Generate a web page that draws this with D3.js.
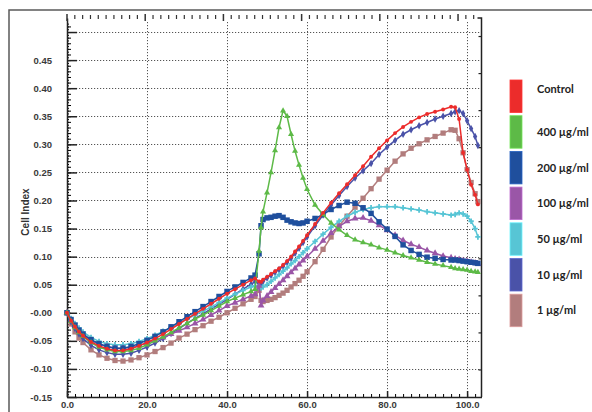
<!DOCTYPE html>
<html>
<head>
<meta charset="utf-8">
<script src="https://cdn.jsdelivr.net/npm/d3@7"></script>
<style>
  body { margin: 0; background: #fff; }
  svg { display: block; font-family: "Liberation Sans", Arial, sans-serif; }
</style>
</head>
<body>
<svg width="592" height="412"></svg>
<script>
// time points (h) shared by every series
const hours = [0, 1, 2, 3, 4, 6, 8, 10, 12, 14, 16, 18, 20, 22, 24, 26, 28, 30, 32, 34, 36, 38, 40, 42, 44, 46,
  47, 48, 48.5, 49, 50, 51, 52, 53, 54, 55, 56, 57, 58, 59, 60, 62, 64, 66, 68, 70, 72, 74, 76, 78, 80, 82, 84,
  86, 88, 90, 92, 94, 96, 97, 98, 99, 100, 101, 102, 102.7];

const control = [0.000, -0.014, -0.025, -0.034, -0.041, -0.052, -0.059, -0.064, -0.067, -0.067, -0.064, -0.059, -0.053,
  -0.046, -0.038, -0.029, -0.020, -0.011, -0.002, 0.007, 0.016, 0.025, 0.034, 0.042, 0.050, 0.058,
  0.061, 0.056, 0.055, 0.059, 0.064, 0.069, 0.074, 0.079, 0.085, 0.092, 0.100, 0.109, 0.118, 0.128, 0.138,
  0.158, 0.178, 0.196, 0.213, 0.229, 0.245, 0.261, 0.278, 0.293, 0.307, 0.320, 0.331, 0.340, 0.348, 0.354,
  0.358, 0.362, 0.367, 0.366, 0.345, 0.285, 0.255, 0.228, 0.210, 0.193];

const dose400 = [0.000, -0.015, -0.026, -0.035, -0.042, -0.053, -0.061, -0.066, -0.069, -0.069, -0.067, -0.063, -0.057,
  -0.050, -0.043, -0.035, -0.027, -0.019, -0.011, -0.004, 0.004, 0.012, 0.020, 0.026, 0.032, 0.038,
  0.042, 0.110, 0.152, 0.180, 0.214, 0.250, 0.289, 0.330, 0.360, 0.350, 0.318, 0.288, 0.263, 0.240, 0.220,
  0.192, 0.175, 0.160, 0.148, 0.138, 0.130, 0.125, 0.121, 0.116, 0.112, 0.107, 0.102, 0.098, 0.094, 0.090,
  0.087, 0.084, 0.081, 0.079, 0.078, 0.077, 0.076, 0.074, 0.073, 0.072];

const dose200 = [0.000, -0.012, -0.022, -0.031, -0.038, -0.048, -0.055, -0.060, -0.063, -0.063, -0.060, -0.055, -0.049,
  -0.042, -0.034, -0.025, -0.016, -0.007, 0.002, 0.011, 0.020, 0.029, 0.038, 0.046, 0.054, 0.062,
  0.067, 0.105, 0.155, 0.166, 0.169, 0.170, 0.172, 0.173, 0.170, 0.165, 0.162, 0.160, 0.159, 0.160, 0.163,
  0.168, 0.175, 0.184, 0.191, 0.197, 0.195, 0.187, 0.177, 0.162, 0.149, 0.136, 0.121, 0.111, 0.104, 0.099,
  0.097, 0.095, 0.094, 0.094, 0.093, 0.092, 0.091, 0.090, 0.089, 0.088];

const dose100 = [0.000, -0.013, -0.024, -0.032, -0.039, -0.049, -0.056, -0.060, -0.063, -0.063, -0.062, -0.058, -0.054,
  -0.049, -0.044, -0.038, -0.032, -0.026, -0.019, -0.012, -0.004, 0.004, 0.012, 0.018, 0.024, 0.030,
  0.033, 0.048, 0.013, 0.022, 0.030, 0.037, 0.044, 0.051, 0.058, 0.065, 0.072, 0.079, 0.086, 0.093, 0.100,
  0.114, 0.128, 0.142, 0.154, 0.163, 0.168, 0.169, 0.164, 0.156, 0.147, 0.138, 0.129, 0.122, 0.117, 0.111,
  0.106, 0.101, 0.098, 0.096, 0.095, 0.093, 0.092, 0.090, 0.089, 0.087];

const dose50 = [0.000, -0.010, -0.019, -0.027, -0.034, -0.044, -0.051, -0.055, -0.057, -0.057, -0.055, -0.051, -0.046,
  -0.040, -0.033, -0.026, -0.018, -0.011, -0.004, 0.003, 0.010, 0.018, 0.026, 0.033, 0.040, 0.046,
  0.048, 0.046, 0.044, 0.046, 0.050, 0.056, 0.062, 0.068, 0.074, 0.080, 0.087, 0.093, 0.100, 0.107, 0.114,
  0.127, 0.140, 0.152, 0.163, 0.172, 0.179, 0.184, 0.187, 0.189, 0.189, 0.189, 0.187, 0.185, 0.183, 0.180,
  0.178, 0.176, 0.174, 0.175, 0.178, 0.176, 0.172, 0.163, 0.150, 0.135];

const dose10 = [0.000, -0.016, -0.028, -0.038, -0.046, -0.058, -0.066, -0.071, -0.074, -0.074, -0.072, -0.067, -0.061,
  -0.054, -0.046, -0.037, -0.028, -0.019, -0.010, -0.002, 0.007, 0.015, 0.024, 0.033, 0.042, 0.051,
  0.055, 0.052, 0.050, 0.056, 0.062, 0.067, 0.072, 0.077, 0.083, 0.090, 0.097, 0.106, 0.115, 0.125, 0.135,
  0.155, 0.174, 0.192, 0.209, 0.225, 0.240, 0.253, 0.266, 0.282, 0.295, 0.307, 0.318, 0.326, 0.333, 0.339,
  0.345, 0.350, 0.355, 0.358, 0.360, 0.355, 0.342, 0.328, 0.314, 0.298];

const dose1 = [0.000, -0.020, -0.034, -0.045, -0.053, -0.066, -0.075, -0.081, -0.085, -0.086, -0.084, -0.080, -0.075,
  -0.069, -0.062, -0.054, -0.045, -0.038, -0.030, -0.023, -0.015, -0.008, 0.000, 0.008, 0.016, 0.024,
  0.029, 0.040, 0.022, 0.020, 0.022, 0.024, 0.027, 0.031, 0.035, 0.040, 0.046, 0.052, 0.058, 0.065, 0.073,
  0.091, 0.113, 0.135, 0.155, 0.172, 0.188, 0.204, 0.221, 0.238, 0.254, 0.270, 0.283, 0.293, 0.301, 0.308,
  0.314, 0.320, 0.326, 0.325, 0.310, 0.285, 0.255, 0.232, 0.212, 0.198];

const seriesNames = ["Control", "400 µg/ml", "200 µg/ml", "100 µg/ml", "50 µg/ml", "10 µg/ml", "1 µg/ml"];
const seriesValues = [control, dose400, dose200, dose100, dose50, dose10, dose1];
const seriesColors = ["#ec2c2b", "#5dba47", "#1f4f9d", "#9a56a7", "#57c5d5", "#4a52a8", "#b27d7d"];
const seriesSymbols = [d3.symbolCircle, d3.symbolTriangle, d3.symbolSquare, d3.symbolTriangle, d3.symbolCross, d3.symbolDiamond, d3.symbolSquare];
const symbolSizes = [12, 16, 30, 20, 16, 16, 28];

const xTicks = [0, 20, 40, 60, 80, 100];
const xTickLabels = ["0.0", "20.0", "40.0", "60.0", "80.0", "100.0"];
const yTicks = [-0.15, -0.10, -0.05, 0, 0.05, 0.10, 0.15, 0.20, 0.25, 0.30, 0.35, 0.40, 0.45, 0.50];
const yTickLabels = ["-0.15", "-0.10", "-0.05", "-0.00", "0.05", "0.10", "0.15", "0.20", "0.25", "0.30", "0.35", "0.40", "0.45", ""];

const svg = d3.select("svg");
const plotL = 67, plotR = 481.5, plotT = 18, plotB = 397;

const x = d3.scaleLinear().domain([0, 103.6]).range([plotL, plotR]);
const y = d3.scaleLinear().domain([-0.15, 0.525]).range([plotB, plotT]);
const xTop = d3.scaleLinear().domain([0, 106]).range([plotL, plotR]);
const yRight = d3.scaleLinear().domain([-0.73, 9.5]).range([plotB, plotT]);

// outer frame (top and left edges only are visible)
svg.append("path")
  .attr("d", "M9,412V10H592")
  .attr("fill", "none")
  .attr("stroke", "#5a5a5a")
  .attr("stroke-width", 1.5);

// grid
const grid = svg.append("g").attr("stroke", "#555").attr("stroke-width", 1).attr("stroke-dasharray", "1.2,1.8");
grid.selectAll(".hg")
  .data(yTicks.filter((d) => d > -0.15))
  .enter()
  .append("line")
  .attr("x1", plotL).attr("x2", plotR)
  .attr("y1", (d) => Math.round(y(d)) + 0.5).attr("y2", (d) => Math.round(y(d)) + 0.5);
grid.selectAll(".vg")
  .data(xTicks.filter((d) => d > 0))
  .enter()
  .append("line")
  .attr("y1", plotT + 4).attr("y2", plotB)
  .attr("x1", (d) => Math.round(x(d)) + 0.5).attr("x2", (d) => Math.round(x(d)) + 0.5);

// left axis
const fmtY = (d) => yTickLabels[yTicks.findIndex((v) => Math.abs(v - d) < 1e-9)];
svg.append("g")
  .attr("transform", "translate(" + plotL + ",0)")
  .call(d3.axisLeft(y).tickValues(d3.range(-0.15, 0.52, 0.005)).tickSize(-2).tickFormat(""))
  .call((g) => g.select(".domain").remove());
svg.append("g")
  .attr("transform", "translate(" + plotL + ",0)")
  .call(d3.axisLeft(y).tickValues(d3.range(-0.15, 0.52, 0.01)).tickSize(-4).tickFormat(""))
  .call((g) => g.select(".domain").remove());
const yAxis = svg.append("g")
  .attr("transform", "translate(" + plotL + ",0)")
  .call(d3.axisLeft(y).tickValues(yTicks).tickSize(-10).tickSizeOuter(0).tickPadding(15).tickFormat(fmtY));
yAxis.select(".domain").attr("stroke", "#222").attr("stroke-width", 1.5);
yAxis.selectAll(".tick line").attr("stroke", "#222").attr("stroke-width", 1.5);
yAxis.selectAll("text").attr("font-size", "9.5px").attr("font-weight", "bold").attr("fill", "#3a3a3a");

// bottom axis
svg.append("g")
  .attr("transform", "translate(0," + plotB + ")")
  .call(d3.axisBottom(x).tickValues(d3.range(0, 104, 2)).tickSize(-3).tickFormat(""))
  .call((g) => g.select(".domain").remove());
const xAxis = svg.append("g")
  .attr("transform", "translate(0," + plotB + ")")
  .call(d3.axisBottom(x).tickValues(xTicks).tickSize(-6).tickSizeOuter(0).tickPadding(4)
    .tickFormat((d, i) => xTickLabels[i]));
xAxis.select(".domain").attr("stroke", "#222").attr("stroke-width", 1.5);
xAxis.selectAll(".tick line").attr("stroke", "#222").attr("stroke-width", 1.5);
xAxis.selectAll("text").attr("font-size", "9.5px").attr("font-weight", "bold").attr("fill", "#3a3a3a");

// top tick row
svg.append("g")
  .selectAll("line")
  .data(d3.range(0, 106, 2))
  .enter()
  .append("line")
  .attr("x1", (d) => xTop(d)).attr("x2", (d) => xTop(d))
  .attr("y1", (d) => (d % 20 === 0 ? 14 : 15))
  .attr("y2", (d) => (d % 20 === 0 ? 21 : 19))
  .attr("stroke", "#333")
  .attr("stroke-width", (d) => (d % 20 === 0 ? 1.5 : 1.2));

// right axis
svg.append("path")
  .attr("d", "M" + (plotR - 4) + "," + plotT + "H" + plotR + "V" + plotB)
  .attr("fill", "none")
  .attr("stroke", "#222")
  .attr("stroke-width", 1.5);
svg.append("g")
  .selectAll("line")
  .data(d3.range(0, 10))
  .enter()
  .append("line")
  .attr("x1", plotR - 3).attr("x2", plotR)
  .attr("y1", (d) => yRight(d)).attr("y2", (d) => yRight(d))
  .attr("stroke", "#222")
  .attr("stroke-width", 1.2);

// y label
svg.append("text")
  .attr("transform", "translate(29,212) rotate(-90)")
  .attr("text-anchor", "middle")
  .attr("font-size", "10px")
  .attr("font-weight", "bold")
  .attr("fill", "#333")
  .text("Cell Index");

// series, drawn from last legend entry to first
const line = d3.line().x((d) => x(d[0])).y((d) => y(d[1]));
const order = d3.range(seriesNames.length).reverse();
order.forEach((i) => {
  const pts = hours.map((t, j) => [t, seriesValues[i][j]]);
  const g = svg.append("g");
  g.append("path")
    .attr("d", line(pts))
    .attr("fill", "none")
    .attr("stroke", seriesColors[i])
    .attr("stroke-width", 1.5);
  g.selectAll("path.m")
    .data(pts)
    .enter()
    .append("path")
    .attr("class", "m")
    .attr("transform", (d) => "translate(" + x(d[0]) + "," + y(d[1]) + ")")
    .attr("d", d3.symbol().type(seriesSymbols[i]).size(symbolSizes[i]))
    .attr("fill", seriesColors[i]);
});

// legend
const legendTop = 80, legendStep = 35.7, boxH = 32.5;
const legend = svg.append("g");
seriesNames.forEach((name, i) => {
  legend.append("rect")
    .attr("x", 510)
    .attr("y", legendTop + i * legendStep)
    .attr("width", 12)
    .attr("height", boxH)
    .attr("fill", seriesColors[i])
    .attr("stroke", d3.color(seriesColors[i]).brighter(0.6))
    .attr("stroke-width", 0.8);
  legend.append("text")
    .attr("x", 537)
    .attr("y", legendTop + i * legendStep + boxH / 2 - (i === 0 ? 7 : 0))
    .attr("dy", "0.35em")
    .attr("font-family", "Lato, 'Liberation Sans', sans-serif")
    .attr("font-size", "11px")
    .attr("font-weight", "bold")
    .attr("fill", "#222")
    .text(name);
});
</script>
</body>
</html>
